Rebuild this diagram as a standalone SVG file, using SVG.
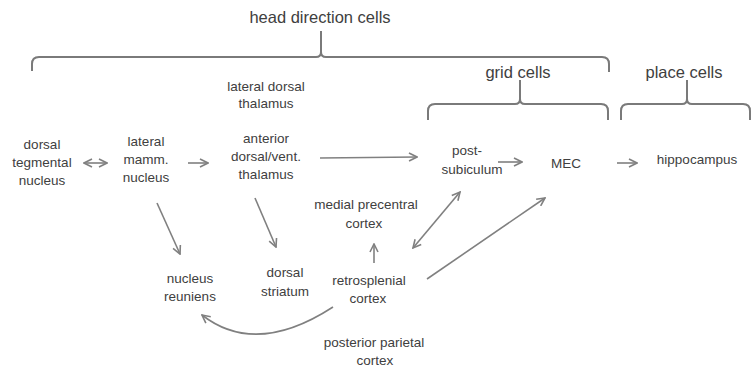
<svg xmlns="http://www.w3.org/2000/svg" width="751" height="369" viewBox="0 0 751 369">
<defs>
<style>
text{font-family:"Liberation Sans",Arial,sans-serif;fill:#404040;text-anchor:middle;font-size:13.5px}
.big{font-size:16.5px}
.brace{fill:none;stroke:#7a7a7a;stroke-width:2}
.c{fill:none;stroke:#808080;stroke-width:1.6}
</style>
<marker id="ah" viewBox="0 0 10 10" refX="9" refY="5" markerWidth="10" markerHeight="10" markerUnits="userSpaceOnUse" orient="auto-start-reverse">
<path d="M1,1 L9,5 L1,9" fill="none" stroke="#808080" stroke-width="1.6"/>
</marker>
</defs>
<rect width="751" height="369" fill="#fff"/>
<g id="braces">
<g id="hd-brace">
<path class="brace" d="M32,71 V64 Q32,57 39,57 H316 Q321,57 321,52 V31 M321,52 Q321,57 326,57 H602 Q609,57 609,64 V72"/>
<text class="big" x="320" y="23">head direction cells</text>
</g>
<g id="grid-brace">
<path class="brace" d="M428,120 V111 Q428,104 435,104 H515 Q520,104 520,99 V80 M520,99 Q520,104 525,104 H601 Q608,104 608,111 V120"/>
<text class="big" x="518" y="78">grid cells</text>
</g>
<g id="place-brace">
<path class="brace" d="M621,120 V111 Q621,104 628,104 H682 Q687,104 687,99 V80 M687,99 Q687,104 692,104 H743 Q750,104 750,111 V120"/>
<text class="big" x="684" y="78">place cells</text>
</g>
</g>
<g id="connectors">
<line class="c" x1="84" y1="163" x2="107" y2="163" marker-start="url(#ah)" marker-end="url(#ah)"/>
<line class="c" x1="188" y1="163" x2="208" y2="163" marker-end="url(#ah)"/>
<line class="c" x1="320" y1="158" x2="417" y2="157" marker-end="url(#ah)"/>
<line class="c" x1="498" y1="162" x2="522" y2="162" marker-end="url(#ah)"/>
<line class="c" x1="617" y1="163" x2="637" y2="163" marker-end="url(#ah)"/>
<line class="c" x1="157" y1="203" x2="180" y2="254" marker-end="url(#ah)"/>
<line class="c" x1="255" y1="198" x2="276" y2="247" marker-end="url(#ah)"/>
<line class="c" x1="374" y1="263" x2="374" y2="244" marker-end="url(#ah)"/>
<line class="c" x1="413" y1="248" x2="460" y2="192" marker-start="url(#ah)" marker-end="url(#ah)"/>
<line class="c" x1="427" y1="279" x2="545" y2="198" marker-end="url(#ah)"/>
<path class="c" d="M333,307 Q256,357 202,315" marker-end="url(#ah)"/>
</g>
<g id="ldt"><text x="266" y="91">lateral dorsal</text><text x="266" y="108">thalamus</text></g>
<g id="dtn"><text x="42" y="149">dorsal</text><text x="42" y="167">tegmental</text><text x="42" y="185">nucleus</text></g>
<g id="lmn"><text x="146" y="146">lateral</text><text x="146" y="164">mamm.</text><text x="146" y="182">nucleus</text></g>
<g id="adv"><text x="266" y="143">anterior</text><text x="266" y="161">dorsal/vent.</text><text x="266" y="179">thalamus</text></g>
<g id="postsub"><text x="467" y="155">post-</text><text x="472" y="174">subiculum</text></g>
<g id="mec"><text x="566" y="168">MEC</text></g>
<g id="hippo"><text x="697" y="164">hippocampus</text></g>
<g id="mpc"><text x="366" y="209">medial precentral</text><text x="364" y="228">cortex</text></g>
<g id="nr"><text x="190" y="283">nucleus</text><text x="190" y="301">reuniens</text></g>
<g id="ds"><text x="285" y="277">dorsal</text><text x="285" y="296">striatum</text></g>
<g id="rsc"><text x="369" y="285">retrosplenial</text><text x="368" y="303">cortex</text></g>
<g id="ppc"><text x="374" y="347">posterior parietal</text><text x="375" y="365">cortex</text></g>
</svg>
